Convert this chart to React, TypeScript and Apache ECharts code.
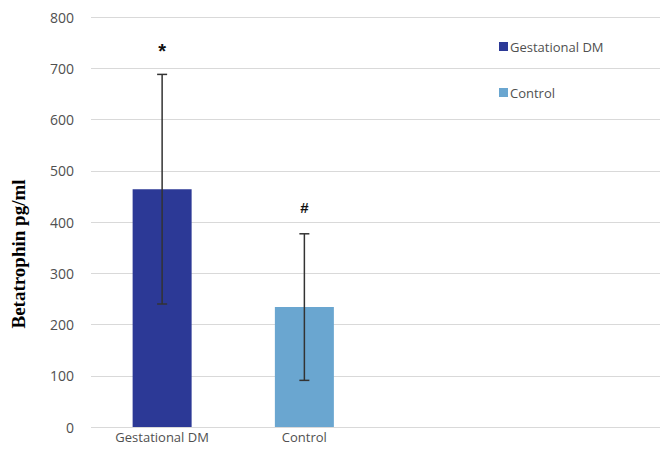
import React, { useEffect, useRef } from "react";
import * as echarts from "echarts";

const categories = ["Gestational DM", "Control", "", ""];
const seriesNames = ["Gestational DM", "Control"];
const means = [464, 234];
const sds = [224, 143];
const signs = ["*", "#"];
const yTicks = { min: 0, max: 800, interval: 100 };
const colors = ["#2c3996", "#6aa6d0"];

export default function App() {
  const ref = useRef<HTMLDivElement>(null);
  useEffect(() => {
    if (!ref.current) return;
    const chart = echarts.init(ref.current, null, { renderer: "svg" });
    const barSeries = seriesNames.map((name, i) => ({
      name,
      type: "bar",
      barWidth: 59,
      barGap: "-100%",
      itemStyle: { color: colors[i] },
      data: categories.map((_, j) => (j === i ? means[i] : null)),
      z: 2,
    }));
    const errData = means.map((m, i) => [i, m - sds[i], m + sds[i], i]);
    chart.setOption({
      animation: false,
      grid: { left: 91, right: 0, top: 17, bottom: 25 },
      legend: {
        orient: "vertical",
        left: 494,
        top: 34,
        itemWidth: 9,
        itemHeight: 9,
        itemGap: 31,
        icon: "rect",
        data: seriesNames,
        textStyle: {
          fontFamily: "Open Sans",
          fontSize: 13,
          color: "#505050",
          padding: [0, 0, 0, -3],
          lineHeight: 15,
        },
      },
      xAxis: {
        type: "category",
        data: categories,
        axisLine: { show: false },
        axisTick: { show: false },
        axisLabel: {
          color: "#505050",
          fontFamily: "Open Sans",
          fontSize: 13,
          margin: 3,
        },
      },
      yAxis: {
        type: "value",
        min: yTicks.min,
        max: yTicks.max,
        interval: yTicks.interval,
        axisLine: { show: false },
        axisTick: { show: false },
        axisLabel: {
          color: "#505050",
          fontFamily: "Open Sans",
          fontSize: 14,
          margin: 17,
        },
        splitLine: { lineStyle: { color: "#d9d9d9", width: 1 } },
      },
      graphic: [
        {
          type: "text",
          x: 18,
          y: 254,
          rotation: Math.PI / 2,
          style: {
            text: "Betatrophin pg/ml",
            font: "bold 19px 'Liberation Serif'",
            fill: "#000000",
            align: "center",
            verticalAlign: "middle",
          },
        },
      ],
      series: [
        ...barSeries,
        {
          type: "custom",
          name: "error",
          data: errData,
          z: 5,
          renderItem: (params: any, api: any) => {
            const x = api.value(0);
            const lo = api.coord([x, api.value(1)]);
            const hi = api.coord([x, api.value(2)]);
            const idx = api.value(3);
            const cap = 5;
            const style = { stroke: "#333333", lineWidth: 1.5 };
            return {
              type: "group",
              children: [
                { type: "line", shape: { x1: hi[0], y1: hi[1], x2: lo[0], y2: lo[1] }, style },
                { type: "line", shape: { x1: hi[0] - cap, y1: hi[1], x2: hi[0] + cap, y2: hi[1] }, style },
                { type: "line", shape: { x1: lo[0] - cap, y1: lo[1], x2: lo[0] + cap, y2: lo[1] }, style },
                {
                  type: "text",
                  x: hi[0],
                  y: hi[1] - (idx === 0 ? 23 : 26),
                  style: {
                    text: signs[idx],
                    font: idx === 0 ? "bold 20px 'Liberation Sans'" : "bold 15px 'Liberation Sans'",
                    fill: "#111111",
                    align: "center",
                    verticalAlign: "middle",
                  },
                },
              ],
            };
          },
        },
      ],
    });
    return () => chart.dispose();
  }, []);
  return (
    <div
      ref={ref}
      style={{ position: "fixed", left: 0, top: 0, width: 660, height: 452, background: "#fff" }}
    />
  );
}
